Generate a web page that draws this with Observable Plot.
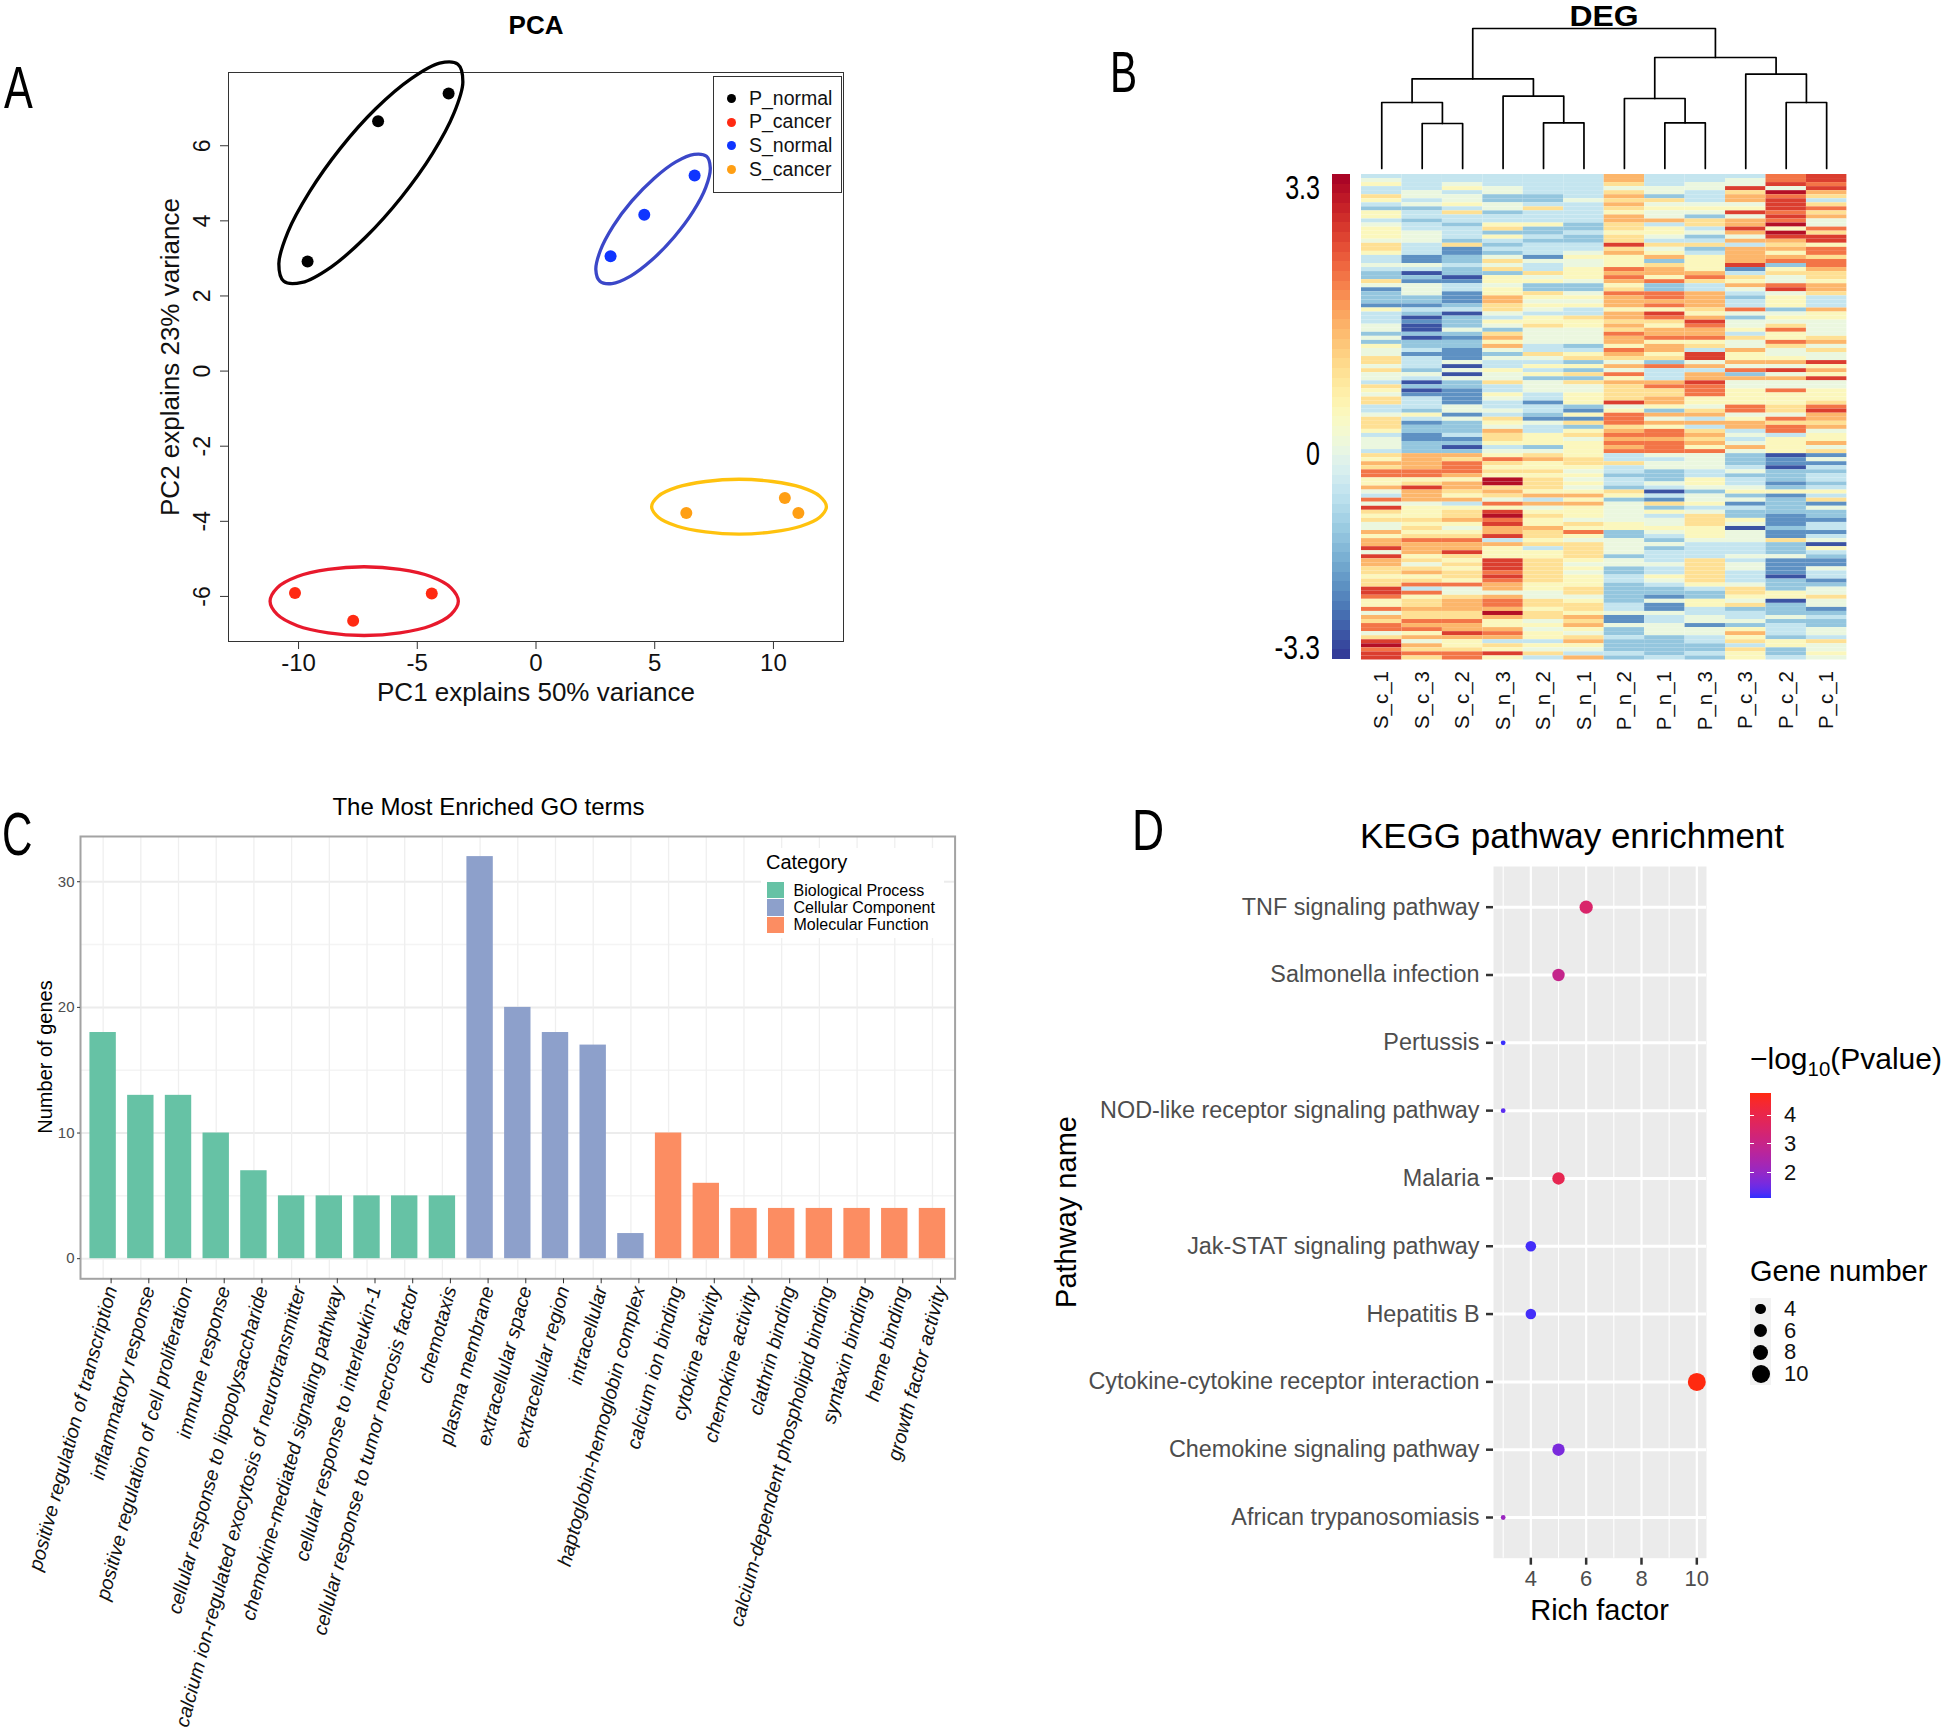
<!DOCTYPE html>
<html><head><meta charset="utf-8">
<script src="https://cdn.jsdelivr.net/npm/d3@7"></script>
<script src="https://cdn.jsdelivr.net/npm/@observablehq/plot@0.6"></script>
<style>
html,body{margin:0;padding:0;background:#fff}
#page{position:relative;width:1944px;height:1735px;overflow:hidden;font-family:"Liberation Sans",Arial,sans-serif;color:#000}
#page svg{position:absolute;overflow:visible;background:transparent}
.t{position:absolute;white-space:nowrap;line-height:1}
</style></head><body><div id="page"></div>
<script>
// ---------- Panel A data ----------
const pcaGroups=["P_normal","P_cancer","S_normal","S_cancer"];
const pcaColors=["#000000","#ff2a12","#0f35ff","#ff9f14"];
const ringColors=["#000000","#e8192c","#3b47c8","#ffc20e"];
const pcaGroup=["P_normal","P_normal","P_normal","P_cancer","P_cancer","P_cancer","S_normal","S_normal","S_normal","S_cancer","S_cancer","S_cancer"];
const pc1=[-3.68,-6.65,-9.62,-10.15,-7.7,-4.39,3.14,4.56,6.68,6.33,10.48,11.05];
const pc2=[7.39,6.65,2.92,-5.91,-6.65,-5.92,3.06,4.16,5.21,-3.78,-3.38,-3.78];
const ringPNormal=[[-3.29,8.17],[-3.08,7.70],[-3.46,6.86],[-4.36,5.79],[-5.67,4.63],[-7.17,3.57],[-8.63,2.77],[-9.85,2.36],[-10.62,2.39],[-10.83,2.86],[-10.45,3.70],[-9.54,4.77],[-8.24,5.93],[-6.74,6.99],[-5.27,7.78],[-4.06,8.20]];
const ringPCancer=[[-3.27,-6.13],[-3.58,-5.77],[-4.43,-5.47],[-5.73,-5.28],[-7.24,-5.21],[-8.75,-5.28],[-10.05,-5.47],[-10.9,-5.77],[-11.2,-6.13],[-10.9,-6.48],[-10.05,-6.78],[-8.75,-6.97],[-7.24,-7.04],[-5.73,-6.97],[-4.43,-6.78],[-3.58,-6.48]];
const ringSNormal=[[7.18,5.72],[7.34,5.41],[7.15,4.89],[6.62,4.25],[5.82,3.57],[4.90,2.97],[3.98,2.53],[3.20,2.33],[2.69,2.39],[2.52,2.70],[2.71,3.21],[3.25,3.86],[4.04,4.53],[4.97,5.13],[5.89,5.57],[6.66,5.77]];
const ringSCancer=[[12.23,-3.61],[11.95,-3.33],[11.15,-3.09],[9.96,-2.94],[8.55,-2.88],[7.14,-2.94],[5.95,-3.09],[5.15,-3.33],[4.87,-3.61],[5.15,-3.89],[5.95,-4.13],[7.14,-4.28],[8.55,-4.34],[9.96,-4.28],[11.15,-4.13],[11.95,-3.89]];

// ---------- Panel B data: one code per row, top to bottom ----------
const heatColumns=["S_c_1","S_c_3","S_c_2","S_n_3","S_n_2","S_n_1","P_n_2","P_n_1","P_n_3","P_c_3","P_c_2","P_c_1"];
const levelCodes="123456789ab";
const levelValues=[-3,-2.3,-1.6,-1,-0.4,0.05,0.6,1.2,1.9,2.5,3.1];
const S_c_1="4564476436 6456665776 4454337523 3326444553 5365577575 5476577445 7776455547 6879966854 95a7675586 88a5a88776 77aa966958 79957ab9aa";
const S_c_3="4444554534 4344555444 2254132555 3324312113 1334244435 4131244436 4233223338 8889967a88 8566676767 9888675786 7949677877 9896858797";
const S_c_2="4456455647 4434443722 3343312442 2234133353 2332225151 5332222552 5333423138 7999868876 8467786567 988a767677 6955788877 988a866799";
const S_n_3="4445533553 4467364343 5757366566 8877546537 8685354465 5744654454 7658776456 97676bb787 596ab9a88a 48666aaa9a 98858998b8 66898476a6";
const S_n_2="4444433474 4463343444 2544756337 6565466755 5544754646 3555442443 2544666357 8667677768 4856766877 6746677777 7665577677 5656646574";
const S_n_1="4444445444 4433433445 6556665335 6564476655 5534673637 3755666326 2736756666 7765656568 6866657696 5777765656 6677567768 7865786548";
const P_n_2="8875787876 8877677a78 6669898679 8886887879 8869875859 687777a569 9978989894 4744344376 3555556633 5555355334 4333334452 2533433343";
const P_n_1="4445537565 5846654756 8378869339 9896a97688 9688673944 4897788638 5869989995 4553335414 2736455654 3534445446 5433252254 4555333334";
const P_n_3="4455444565 3774534734 6666897448 888768a988 9674aa5848 8a99966578 4847878695 5554466535 5645777666 5444477777 7643366445 5255443343";
const P_c_3="455a78856a 588a858488 88a2476854 3449535564 7558668593 8556666995 6884545853 3345344563 5243365155 5444545544 4577657344 5368674766";
const P_c_2="99a5b9aaa9 a9b6ba8786 89367559a5 6663565796 69755685a5 8559666775 9799466661 2213332362 3333222322 7333522221 3336613335 3444366334";
const P_c_1="aa9a874797 85597aa699 7998776887 4448665555 785755a686 a5566679a8 8785668572 5243443464 7253324424 5164322544 2355755234 3355475565";
const dendroMerges=[["S_c_3","S_c_2",45],["S_c_1",0,66],["S_n_2","S_n_1",45.7],["S_n_3",2,72.3],[1,3,89.7],["P_n_1","P_n_3",45.7],["P_n_2",5,70],["P_c_2","P_c_1",66],["P_c_3",7,94.3],[6,8,111],[4,9,140]];

// ---------- Panel C data ----------
const goTerms=["positive regulation of transcription","inflammatory response","positive regulation of cell proliferation","immune response","cellular response to lipopolysaccharide","calcium ion-regulated exocytosis of neurotransmitter","chemokine-mediated signaling pathway","cellular response to interleukin-1","cellular response to tumor necrosis factor","chemotaxis","plasma membrane","extracellular space","extracellular region","intracellular","haptoglobin-hemoglobin complex","calcium ion binding","cytokine activity","chemokine activity","clathrin binding","calcium-dependent phospholipid binding","syntaxin binding","heme binding","growth factor activity"];
const goCounts=[18,13,13,10,7,5,5,5,5,5,32,20,18,17,2,10,6,4,4,4,4,4,4];
const goCategory=["Biological Process","Biological Process","Biological Process","Biological Process","Biological Process","Biological Process","Biological Process","Biological Process","Biological Process","Biological Process","Cellular Component","Cellular Component","Cellular Component","Cellular Component","Cellular Component","Molecular Function","Molecular Function","Molecular Function","Molecular Function","Molecular Function","Molecular Function","Molecular Function","Molecular Function"];
const goCategories=["Biological Process","Cellular Component","Molecular Function"];
const goColors=["#66c2a5","#8da0cb","#fc8d62"];

// ---------- Panel D data ----------
const pathways=["TNF signaling pathway","Salmonella infection","Pertussis","NOD-like receptor signaling pathway","Malaria","Jak-STAT signaling pathway","Hepatitis B","Cytokine-cytokine receptor interaction","Chemokine signaling pathway","African trypanosomiasis"];
const richFactor=[6,5,3,3,5,4,4,10,5,3];
const geneNumber=[6,5,3,3,5,4,4,10,5,3];
const logP=[3.5,2.95,1.15,1.35,3.9,1.2,1.2,4.75,1.65,2.1];
const geneLegend=[4,6,8,10];

// ---------- helpers ----------
const page=document.getElementById("page");
const SANS="Liberation Sans";
function put(plot,left,top){plot.style.left=left+"px";plot.style.top=top+"px";page.appendChild(plot);return plot;}
function text(str,x,y,o={}){
  const d=document.createElement("div");d.className="t";
  if(o.html)d.innerHTML=str;else d.textContent=str;
  d.style.left=x+"px";d.style.top=y+"px";
  d.style.fontSize=(o.size||20)+"px";
  d.style.fontFamily=SANS;
  if(o.weight)d.style.fontWeight=o.weight;
  if(o.lineHeight)d.style.lineHeight=o.lineHeight;
  d.style.color=o.color||"#000";
  const a=o.anchor||"start";
  const ax={start:"0",middle:"-50%",end:"-100%"}[a];
  d.style.transformOrigin={start:"0 50%",middle:"50% 50%",end:"100% 50%"}[a];
  d.style.transform=`translate(${ax},-50%)`+(o.rotate?` rotate(${o.rotate}deg)`:"")+(o.sx?` scaleX(${o.sx})`:"");
  page.appendChild(d);return d;
}
function box(x,y,w,h,css={}){
  const d=document.createElement("div");
  Object.assign(d.style,{position:"absolute",left:x+"px",top:y+"px",width:w+"px",height:h+"px",boxSizing:"border-box"},css);
  page.appendChild(d);return d;
}
const baseStyle={background:"transparent",fontFamily:SANS,overflow:"visible"};

// ---------- Panel A ----------
const pcaRows=pc1.map((v,i)=>({pc1:v,pc2:pc2[i],group:pcaGroup[i]}));
const rings=[ringPNormal,ringPCancer,ringSNormal,ringSCancer];
put(Plot.plot({
  width:723,height:691,marginLeft:98,marginTop:42,marginRight:10,marginBottom:80,style:baseStyle,
  x:{domain:[-12.95,12.95]},y:{domain:[-7.2,7.95]},
  color:{domain:pcaGroups,range:pcaColors},
  marks:[
    Plot.frame({stroke:"#333"}),
    Plot.axisX({ticks:[-10,-5,0,5,10],tickFormat:d=>String(d),tickSize:8,tickPadding:4,fontSize:24,stroke:"#333",fill:"#111",label:null}),
    Plot.axisY({ticks:[-6,-4,-2,0,2,4,6],tickFormat:d=>String(d),tickSize:8,tickPadding:11,tickRotate:-90,fontSize:23,stroke:"#333",fill:"#111",label:null}),
    ...rings.map((r,i)=>Plot.line(r,{x:d=>d[0],y:d=>d[1],curve:"catmull-rom-closed",stroke:ringColors[i],strokeWidth:3.3})),
    Plot.dot(pcaRows,{x:"pc1",y:"pc2",fill:"group",r:6})
  ]
}),130,30);
text("PCA",536,25,{size:26,weight:700,anchor:"middle"});
text("A",4,88,{size:60,sx:.72});
text("PC1 explains 50% variance",536,692,{size:26,anchor:"middle",color:"#111"});
text("PC2 explains 23% variance",170,357,{size:26,anchor:"middle",rotate:-90,color:"#111"});
box(713,75.5,129,117,{border:"1px solid #333",background:"#fff"});
pcaGroups.forEach((g,i)=>{
  const y=98.5+i*23.7;
  box(726.5,y-4.5,9,9,{borderRadius:"50%",background:pcaColors[i]});
  text(g,749,y,{size:19.5,color:"#111"});
});

// ---------- Panel B ----------
const heatSeries=[S_c_1,S_c_3,S_c_2,S_n_3,S_n_2,S_n_1,P_n_2,P_n_1,P_n_3,P_c_3,P_c_2,P_c_1].map(s=>s.replace(/ /g,""));
const rowCount=120;
const heatRows=heatSeries.flatMap((s,c)=>d3.range(rowCount).map(r=>({
  col:heatColumns[c],row:r,value:levelValues[levelCodes.indexOf(s[r])]})));
const heatPlot=Plot.plot({
  width:505.4,height:575.5,marginLeft:10,marginRight:10,marginTop:10,marginBottom:80,style:baseStyle,
  x:{domain:heatColumns,padding:0,round:false},y:{domain:d3.range(rowCount),padding:0,round:false},
  color:{type:"linear",scheme:"RdYlBu",reverse:true,domain:[-3.3,3.3]},
  marks:[
    Plot.cell(heatRows,{x:"col",y:"row",fill:"value"}),
    Plot.axisX({tickSize:0,tickPadding:11,tickRotate:-90,fontSize:20.5,fill:"#111",label:null}),
    Plot.axisY({ticks:[],label:null})
  ]
});
put(heatPlot,1351,163.5);
// dendrogram
const leafPos=Object.fromEntries(heatColumns.map((c,i)=>[c,i+.5]));
const nodes=[];
dendroMerges.forEach(([a,b,h])=>{
  const pa=typeof a==="string"?{x:leafPos[a],h:0}:nodes[a];
  const pb=typeof b==="string"?{x:leafPos[b],h:0}:nodes[b];
  nodes.push({x:(pa.x+pb.x)/2,h,pa,pb});
});
const dendroPts=nodes.flatMap((n,i)=>[{i,x:n.pa.x,h:n.pa.h},{i,x:n.pa.x,h:n.h},{i,x:n.pb.x,h:n.h},{i,x:n.pb.x,h:n.pb.h}]);
put(Plot.plot({
  width:505.4,height:142,marginLeft:10,marginRight:10,marginTop:1,marginBottom:1,style:baseStyle,
  x:{domain:[0,12],axis:null},y:{domain:[0,140],axis:null},
  marks:[Plot.line(dendroPts,{x:"x",y:"h",z:"i",stroke:"#000",strokeWidth:1.7})]
}),1351,27.3);
text("DEG",1604,16,{size:29,weight:700,anchor:"middle",sx:1.1});
text("B",1110,72,{size:58,sx:.7});
const heatColor=heatPlot.scale("color");
const barStops=d3.range(50).flatMap(i=>{
  const c=heatColor.apply(3.3-6.6*(i+.5)/50);
  return [`${c} ${i*2}%`,`${c} ${(i+1)*2}%`];
}).join(",");
box(1332,173.5,18,485.5,{background:`linear-gradient(to bottom,${barStops})`});
text("3.3",1320,187,{size:33,anchor:"end",sx:.76});
text("0",1320,453,{size:33,anchor:"end",sx:.76});
text("-3.3",1320,647,{size:33,anchor:"end",sx:.8});

// ---------- Panel C ----------
const goRows=goTerms.map((t,i)=>({term:t,count:goCounts[i],cat:goCategory[i]}));
put(Plot.plot({
  width:914.6,height:898.3,marginLeft:20,marginRight:20,marginTop:14,marginBottom:442,style:baseStyle,
  x:{domain:goTerms,paddingInner:.3,paddingOuter:.25,round:false},
  y:{domain:[-1.6,33.6]},
  color:{domain:goCategories,range:goColors},
  marks:[
    Plot.ruleY([5,15,25],{stroke:"#f4f4f4",strokeWidth:1.5}),
    Plot.ruleY([0,10,20,30],{stroke:"#ececec",strokeWidth:2}),
    Plot.ruleX(goTerms,{stroke:"#efefef",strokeWidth:1.3}),
    Plot.barY(goRows,{x:"term",y1:0,y2:"count",fill:"cat"}),
    Plot.frame({stroke:"#a3a3a3",strokeWidth:2}),
    Plot.axisY({ticks:[0,10,20,30],tickSize:3,tickPadding:3,fontSize:15,fill:"#4d4d4d",stroke:"#333",label:null}),
    Plot.axisX({tickSize:5,tickPadding:3,tickRotate:-75,dx:8,fontSize:19.7,fontStyle:"italic",fill:"#111",stroke:"#333",label:null,lineAnchor:"middle",textOverflow:null})
  ]
}),60.4,821.6);
text("The Most Enriched GO terms",488.5,807,{size:24,anchor:"middle"});
text("C",2,834,{size:62,sx:.68});
text("Number of genes",45,1057,{size:20,anchor:"middle",rotate:-90});
box(761,848,183,90,{background:"#fff"});
text("Category",766,862,{size:20});
goCategories.forEach((c,i)=>{
  const y=882+i*17.3;
  box(767,y,16.5,16.3,{background:goColors[i]});
  text(c,793.5,y+8.5,{size:16});
});

// ---------- Panel D ----------
const keggRows=pathways.map((p,i)=>({p,rich:richFactor[i],gene:geneNumber[i],logp:logP[i]}));
const keggPlot=Plot.plot({
  width:726,height:777.7,marginLeft:453,marginRight:60,marginTop:26,marginBottom:60,style:baseStyle,
  x:{domain:[2.65,10.35]},
  y:{type:"point",domain:pathways,padding:.6,round:false},
  r:{type:"linear",domain:[3,4,5,6,10],range:[2.4,5.3,6.2,6.6,9]},
  color:{type:"linear",domain:[1.11,4.75],range:["#2f2fff","#ff2a10"],interpolate:"lab"},
  marks:[
    Plot.frame({fill:"#ebebeb",stroke:null}),
    Plot.ruleX([3,5,7,9],{stroke:"#fff",strokeWidth:1.1}),
    Plot.ruleX([4,6,8,10],{stroke:"#fff",strokeWidth:2.2}),
    Plot.ruleY(pathways,{stroke:"#fff",strokeWidth:3}),
    Plot.axisX({ticks:[4,6,8,10],tickSize:7,tickPadding:5,fontSize:22,fill:"#4d4d4d",stroke:"#333",strokeWidth:2.5,label:null}),
    Plot.axisY({tickSize:7,tickPadding:7,fontSize:23.4,fill:"#4d4d4d",stroke:"#333",strokeWidth:2.5,label:null,textOverflow:null,marginLeft:453}),
    Plot.dot(keggRows,{x:"rich",y:"p",r:"gene",fill:"logp"})
  ]
});
put(keggPlot,1040,840);
text("KEGG pathway enrichment",1572,835,{size:35,anchor:"middle"});
text("D",1132,830,{size:57,sx:.78});
text("Rich factor",1599.5,1610,{size:29,anchor:"middle"});
text("Pathway name",1066,1212,{size:29,anchor:"middle",rotate:-90});
text("&minus;log<sub style='font-size:.68em;line-height:0'>10</sub>(Pvalue)",1750,1059,{size:30,html:true});
const keggColor=keggPlot.scale("color"), keggR=keggPlot.scale("r");
const gradStops=d3.range(0,21).map(i=>keggColor.apply(4.75-(4.75-1.11)*i/20)).join(",");
box(1750,1093.3,20.5,105,{background:`linear-gradient(to bottom,${gradStops})`});
[[4,1115],[3,1143.5],[2,1172.7]].forEach(([v,y])=>{
  box(1750,y-.5,4,1,{background:"#fff"});box(1766.5,y-.5,4,1,{background:"#fff"});
  text(String(v),1784,y,{size:22,color:"#111"});
});
text("Gene number",1750,1271,{size:29});
box(1750,1298,21,87,{background:"#f2f2f2"});
geneLegend.forEach((g,i)=>{
  const y=1309+i*21.7, r=keggR.apply(g);
  box(1760.5-r,y-r,2*r,2*r,{background:"#000",borderRadius:"50%"});
  text(String(g),1784,y,{size:22,color:"#111"});
});
</script></body></html>
